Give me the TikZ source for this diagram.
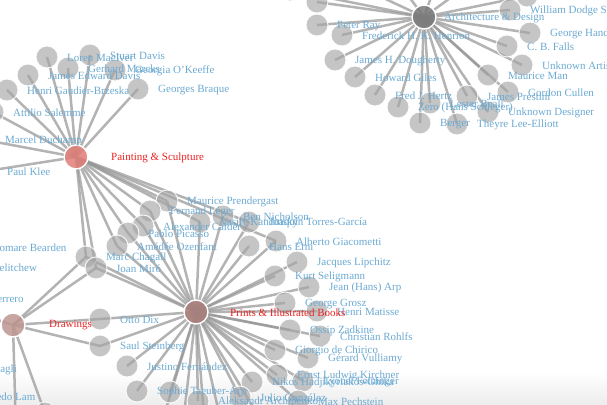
\documentclass[tikz,border=0pt]{standalone}
\usepackage{fontspec}
\setmainfont{Liberation Serif}
\definecolor{labblue}{RGB}{108,170,210}
\definecolor{labred}{RGB}{235,35,35}
\definecolor{edgegray}{RGB}{148,148,148}
\definecolor{leafgray}{RGB}{166,166,166}
\definecolor{pscol}{RGB}{225,125,118}
\definecolor{prcol}{RGB}{170,125,120}
\definecolor{drcol}{RGB}{190,150,145}
\definecolor{adcol}{RGB}{120,120,120}
\pgfdeclarelayer{bg}\pgfdeclarelayer{fg}\pgfsetlayers{bg,main,fg}
\tikzset{
  leaf/.style={circle,minimum size=22pt,inner sep=0pt,fill=leafgray,fill opacity=0.65,draw=white,draw opacity=0.9,line width=0.9pt},
  hubnode/.style={circle,minimum size=24pt,inner sep=0pt,fill opacity=0.85,draw=white,line width=1.4pt},
  lab/.style={anchor=west,inner sep=0pt,text=labblue},
  hublab/.style={anchor=west,inner sep=0pt,text=labred},
  edge/.style={draw=edgegray,line width=2.5pt,opacity=0.7}
}
\newcommand\leaf[4]{\node[leaf] (#1) at (#2,#3) {};
  \begin{pgfonlayer}{fg}\node[lab] (#1-l) at ([xshift=20pt,yshift=-1pt]#1.center) {#4};\end{pgfonlayer}}
\newcommand\links[2]{\begin{pgfonlayer}{bg}\foreach \n in {#2}{\draw[edge] (#1.center) -- (\n.center);}\end{pgfonlayer}}
\begin{document}
\begin{tikzpicture}[x=1pt,y=-1pt,font=\fontsize{11}{13}\selectfont]
\useasboundingbox (0,0) rectangle (607,404);
\begin{pgfonlayer}{bg}
\fill[white] (0,0) rectangle (607,404);
\fill[top color=white,bottom color=black!7] (0,372) rectangle (607,404);
\end{pgfonlayer}
% hubs
\node[hubnode,fill=pscol] (PS) at (76,157) {};
\node[hubnode,fill=prcol] (PR) at (196,312) {};
\node[hubnode,fill=drcol] (DR) at (13,325) {};
\node[hubnode,fill=adcol] (AD) at (424,17) {};
% painting & sculpture
\leaf{p1}{47}{57}{Loren MacIver}
\leaf{p2}{90}{55}{Stuart Davis}
\leaf{p3}{68}{68}{Gerhard Marcks}
\leaf{p4}{115}{70}{Georgia O'Keeffe}
\leaf{p5}{28}{75}{James Edward Davis}
\leaf{p6}{7}{90}{Henri Gaudier-Brzeska}
\leaf{p7}{138}{89}{Georges Braque}
\leaf{p8}{-7}{112}{Attilio Salemme}
\leaf{p9}{-15}{140}{Marcel Duchamp}
\leaf{p10}{-13}{171}{Paul Klee}
% shared
\leaf{s1}{167}{201}{Maurice Prendergast}
\leaf{s2}{150}{211}{Fernand Léger}
\leaf{s3}{143}{226}{Alexander Calder}
\leaf{s4}{128}{233}{Pablo Picasso}
\leaf{s5}{117}{246}{Amédée Ozenfant}
\leaf{s6}{86}{257}{Marc Chagall}
\leaf{s7}{96}{268}{Joan Miró}
% prints
\leaf{k1}{200}{222}{Vasily Kandinsky}
\leaf{k2}{223}{216}{Ben Nicholson}
\leaf{k3}{249}{222}{Joaquín Torres-García}
\leaf{k4}{249}{246}{Hans Erni}
\leaf{k5}{276}{241}{Alberto Giacometti}
\leaf{k6}{297}{262}{Jacques Lipchitz}
\leaf{k7}{275}{276}{Kurt Seligmann}
\leaf{k8}{309}{287}{Jean (Hans) Arp}
\leaf{k9}{285}{303}{George Grosz}
\leaf{k10}{317}{311}{Henri Matisse}
\leaf{k11}{290}{330}{Ossip Zadkine}
\leaf{k12}{320}{336}{Christian Rohlfs}
\leaf{k13}{275}{350}{Giorgio de Chirico}
\leaf{k14}{308}{358}{Gérard Vulliamy}
\leaf{k15}{277}{375}{Ernst Ludwig Kirchner}
\leaf{k16}{252}{382}{Nikos Hadjikyriakos-Ghika}
\leaf{k17}{303}{381}{Lyonel Feininger}
\leaf{k18}{240}{397}{Julio González}
\leaf{k19}{298}{401}{Max Pechstein}
\leaf{k20}{198}{401}{Aleksandr Archipenko}
\leaf{k21}{137}{391}{Sophie Taeuber-Arp}
\leaf{k22}{127}{366}{Justino Fernández}
\leaf{k23}{170}{392}{}
\node[leaf] (b1) at (160,428) {};
\node[leaf] (b2) at (182,432) {};
\node[leaf] (b3) at (205,430) {};
\node[leaf] (b4) at (222,426) {};
\node[leaf] (b5) at (262,422) {};
% drawings
\leaf{d1}{100}{319}{Otto Dix}
\leaf{d2}{100}{346}{Saul Steinberg}
\leaf{x1}{-28}{247}{Romare Bearden}
\leaf{x2}{-64}{267}{Pavel Tchelitchew}
\leaf{x3}{-69}{298}{Xavier Guerrero}
\leaf{x4}{-66}{369}{Corrado Cagli}
\leaf{x5}{-44}{396}{Wifredo Lam}
\node[leaf] (x6) at (45,413) {};
\node[leaf] (x7) at (16,432) {};
% architecture & design
\leaf{a1}{317}{25}{Peter Ray}
\leaf{a2}{342}{35}{Frederick H. K. Henrion}
\leaf{a3}{335}{60}{James H. Dougherty}
\leaf{a4}{355}{77}{Howard Giles}
\leaf{a5}{375}{95}{Fred J. Hertz}
\leaf{a6}{398}{107}{Zero (Hans Schleger)}
\leaf{a7}{420}{123}{Berger}
\leaf{a8}{457}{124}{Theyre Lee-Elliott}
\leaf{a9}{430}{103}{Lester Beall}
\leaf{a10}{467}{96}{James Prestini}
\leaf{a11}{488}{112}{Unknown Designer}
\leaf{a12}{508}{92}{Gordon Cullen}
\leaf{a13}{488}{75}{Maurice Man}
\leaf{a14}{522}{65}{Unknown Artist}
\leaf{a15}{507}{46}{C. B. Falls}
\leaf{a16}{530}{33}{George Hand}
\leaf{a17}{510}{10}{William Dodge St}
\node[leaf] (a18) at (317,2) {};
\node[leaf] (o1) at (290,-10) {};
\node[leaf] (o2) at (345,-20) {};
\node[leaf] (o3) at (392,-26) {};
\node[leaf] (o4) at (440,-28) {};
\node[leaf] (o5) at (478,-22) {};
\node[leaf] (o6) at (527,-4) {};
% hub labels
\begin{pgfonlayer}{fg}
\node[hublab] (PS-l) at (111,158) {Painting \& Sculpture};
\node[hublab] (PR-l) at (230,313) {Prints \& Illustrated Books};
\node[hublab] (DR-l) at (49,325) {Drawings};
\node[lab] (AD-l) at (444,18) {Architecture \& Design};
\end{pgfonlayer}
% connectors
\links{PS}{p1,p2,p3,p4,p5,p6,p7,p8,p9,p10,s1,s2,s3,s4,s5,s6,s7,k1,k3,k5}
\links{PR}{s1,s2,s3,s4,s5,s6,s7,k1,k2,k3,k4,k5,k6,k7,k8,k9,k10,k11,k12,k13,k14,k15,k16,k17,k18,k19,k20,k21,k22,k23,b1,b2,b3,b4,b5,d1,d2}
\links{DR}{s6,s7,d1,d2,x3,x6,x7}
\links{AD}{a1,a2,a3,a4,a5,a6,a7,a8,a9,a10,a11,a12,a13,a14,a15,a16,a17,a18,o1,o2,o3,o4,o5,o6}
\end{tikzpicture}
\end{document}
